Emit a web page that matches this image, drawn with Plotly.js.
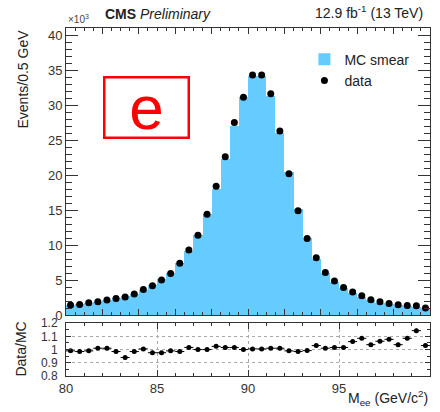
<!DOCTYPE html>
<html>
<head>
<meta charset="utf-8">
<script src="https://cdn.plot.ly/plotly-3.0.1.min.js"></script>
<style>html,body{margin:0;padding:0;background:#fff;}#chart{width:440px;height:412px;}</style>
</head>
<body>
<div id="chart"></div>
<script>
// Bin centres of M_ee (GeV/c^2), 0.5 GeV bins from 80 to 100
var binCenter = [80.25,80.75,81.25,81.75,82.25,82.75,83.25,83.75,84.25,84.75,
                 85.25,85.75,86.25,86.75,87.25,87.75,88.25,88.75,89.25,89.75,
                 90.25,90.75,91.25,91.75,92.25,92.75,93.25,93.75,94.25,94.75,
                 95.25,95.75,96.25,96.75,97.25,97.75,98.25,98.75,99.25,99.75];
// MC smear histogram (x10^3 events / 0.5 GeV)
var mcSmear = [1.44,1.52,1.78,1.88,2.12,2.42,2.77,3.05,3.65,4.30,
               5.12,6.01,7.51,9.15,11.4,14.4,17.97,22.24,27.07,31.1,
               34.13,34.13,31.29,26.04,20.4,15.13,11.04,7.96,6.04,4.78,
               3.89,3.10,2.54,2.11,1.79,1.55,1.43,1.27,1.16,0.97];
// Data points (x10^3 events / 0.5 GeV)
var dataVals = [1.43,1.5,1.76,1.9,2.14,2.38,2.6,3.0,3.67,4.2,
                5.0,5.95,7.4,9.3,11.4,14.4,18.4,22.6,27.5,31.1,
                34.3,34.3,31.6,26.3,20.2,14.9,10.95,8.2,6.1,4.86,
                3.95,3.29,2.76,2.19,1.9,1.67,1.48,1.38,1.33,1.0];
// Data / MC ratio
var ratioVals = [0.99,0.985,0.99,1.01,1.01,0.985,0.94,0.985,1.005,0.976,
                 0.976,0.99,0.985,1.016,1.0,1.0,1.024,1.016,1.016,1.0,
                 1.005,1.005,1.01,1.01,0.99,0.985,0.992,1.03,1.01,1.016,
                 1.016,1.06,1.085,1.037,1.063,1.077,1.037,1.085,1.143,1.03];
var ratioErr = [0.012,0.012,0.011,0.011,0.010,0.010,0.009,0.009,0.008,0.007,
                0.007,0.006,0.006,0.005,0.005,0.004,0.004,0.003,0.003,0.003,
                0.003,0.003,0.003,0.003,0.004,0.004,0.005,0.006,0.006,0.007,
                0.008,0.009,0.010,0.011,0.012,0.013,0.014,0.015,0.016,0.018];
var xTickVals = [80,85,90,95,100];
var xTickText = ['80','85','90','95','100'];
var yMainTickVals = [0,5,10,15,20,25,30,35,40];
var yMainTickText = ['0','5','10','15','20','25','30','35','40'];
var yRatioTickVals = [0.8,0.9,1,1.1,1.2];
var yRatioTickText = ['0.8','0.9','1','1.1','1.2'];

var FONT = 'Liberation Sans, Arial, Helvetica, sans-serif';
var AXCOL = '#333';
var TICKFONT = {family: FONT, size: 13, color: '#333'};

var traces = [
  {
    type: 'bar', x: binCenter, y: mcSmear, name: 'MC smear',
    marker: {color: 'rgb(102,204,255)', line: {width: 0}},
    xaxis: 'x', yaxis: 'y', hoverinfo: 'skip'
  },
  {
    type: 'scatter', mode: 'markers', x: binCenter, y: dataVals, name: 'data',
    marker: {color: 'black', size: 7, symbol: 'circle'},
    xaxis: 'x', yaxis: 'y'
  },
  {
    type: 'scatter', mode: 'markers', x: binCenter, y: ratioVals, showlegend: false,
    marker: {color: 'black', size: 5},
    error_x: {type: 'constant', value: 0.25, width: 0, thickness: 1, color: 'black'},
    error_y: {type: 'data', array: ratioErr, width: 0, thickness: 1, color: 'black'},
    xaxis: 'x2', yaxis: 'y2'
  }
];

var commonAxis = {
  showline: true, linecolor: AXCOL, linewidth: 1, mirror: 'ticks',
  ticks: 'inside', tickcolor: AXCOL, zeroline: false, tickfont: TICKFONT
};

var layout = {
  width: 440, height: 412,
  margin: {l: 66, r: 10, t: 28, b: 36},
  paper_bgcolor: 'white', plot_bgcolor: 'white',
  font: {family: FONT, color: '#222'},
  bargap: 0,
  showlegend: true,
  legend: {x: 0.655, y: 0.955, xanchor: 'left', yanchor: 'top', bgcolor: 'rgba(0,0,0,0)',
           font: {family: FONT, size: 14, color: '#222'}, tracegroupgap: 4, itemwidth: 30},
  xaxis: Object.assign({}, commonAxis, {
    domain: [0, 1], range: [80, 100], anchor: 'y', showticklabels: false,
    tick0: 80, dtick: 2, ticklen: 6, showgrid: false,
    minor: {dtick: 0.5, ticklen: 3, ticks: 'inside', tickcolor: AXCOL, showgrid: false}
  }),
  yaxis: Object.assign({}, commonAxis, {
    domain: [0.175, 1], range: [0, 41], anchor: 'x',
    tickvals: yMainTickVals, ticktext: yMainTickText, ticklen: 12, showgrid: false,
    minor: {dtick: 1, ticklen: 6, ticks: 'inside', tickcolor: AXCOL, showgrid: false}
  }),
  xaxis2: Object.assign({}, commonAxis, {
    domain: [0, 1], range: [80, 100], anchor: 'y2',
    tickvals: xTickVals, ticktext: xTickText, ticklen: 6,
    showgrid: true, gridcolor: '#aaa', griddash: 'dot', gridwidth: 1,
    minor: {dtick: 1, ticklen: 3, ticks: 'inside', tickcolor: AXCOL, showgrid: false}
  }),
  yaxis2: Object.assign({}, commonAxis, {
    domain: [0, 0.152], range: [0.8, 1.2], anchor: 'x2',
    tickvals: yRatioTickVals, ticktext: yRatioTickText, ticklen: 5,
    tickfont: {family: FONT, size: 12, color: '#333'}, ticklabelstandoff: 5,
    showgrid: true, gridcolor: '#aaa', griddash: 'dot', gridwidth: 1,
    minor: {dtick: 0.05, ticklen: 3, ticks: 'inside', tickcolor: AXCOL, showgrid: false}
  }),
  annotations: [
    {xref: 'paper', yref: 'paper', x: 0, y: 1, xanchor: 'left', yanchor: 'bottom', yshift: 1,
     text: '×10<sup>3</sup>', showarrow: false, font: {family: FONT, size: 10, color: '#444'}},
    {xref: 'paper', yref: 'paper', x: (103 - 66) / 364, y: 1, xanchor: 'left', yanchor: 'bottom', yshift: 4,
     text: '<b>CMS</b> <i>Preliminary</i>', showarrow: false, font: {family: FONT, size: 14, color: '#222'}},
    {xref: 'paper', yref: 'paper', x: 0.985, y: 1, xanchor: 'right', yanchor: 'bottom', yshift: 5,
     text: '12.9 fb<sup>-1</sup> (13 TeV)', showarrow: false, font: {family: FONT, size: 14, color: '#222'}},
    {xref: 'paper', yref: 'paper', x: 0, xshift: -44, y: 1, yanchor: 'top', xanchor: 'center',
     text: 'Events/0.5 GeV', textangle: -90, showarrow: false, font: {family: FONT, size: 14, color: '#222'}},
    {xref: 'paper', yref: 'paper', x: 0, xshift: -45, y: 0.076, yanchor: 'middle', xanchor: 'center',
     text: 'Data/MC', textangle: -90, showarrow: false, font: {family: FONT, size: 14, color: '#222'}},
    {xref: 'paper', yref: 'paper', x: 1, y: 0, xanchor: 'right', yanchor: 'top', yshift: -10,
     text: 'M<sub>ee</sub> (GeV/c<sup>2</sup>)', showarrow: false, font: {family: FONT, size: 14, color: '#222'}},
    {xref: 'paper', yref: 'paper', x: (146 - 66) / 364, y: (376 - 107) / 348, xanchor: 'center', yanchor: 'middle',
     text: 'e', showarrow: false, width: 82, height: 58, borderpad: 0, borderwidth: 2.5, bordercolor: '#f00',
     align: 'center', valign: 'middle', font: {family: FONT, size: 62, color: '#f00'}}
  ]
};

Plotly.newPlot('chart', traces, layout, {displayModeBar: false, staticPlot: true});
</script>
</body>
</html>
